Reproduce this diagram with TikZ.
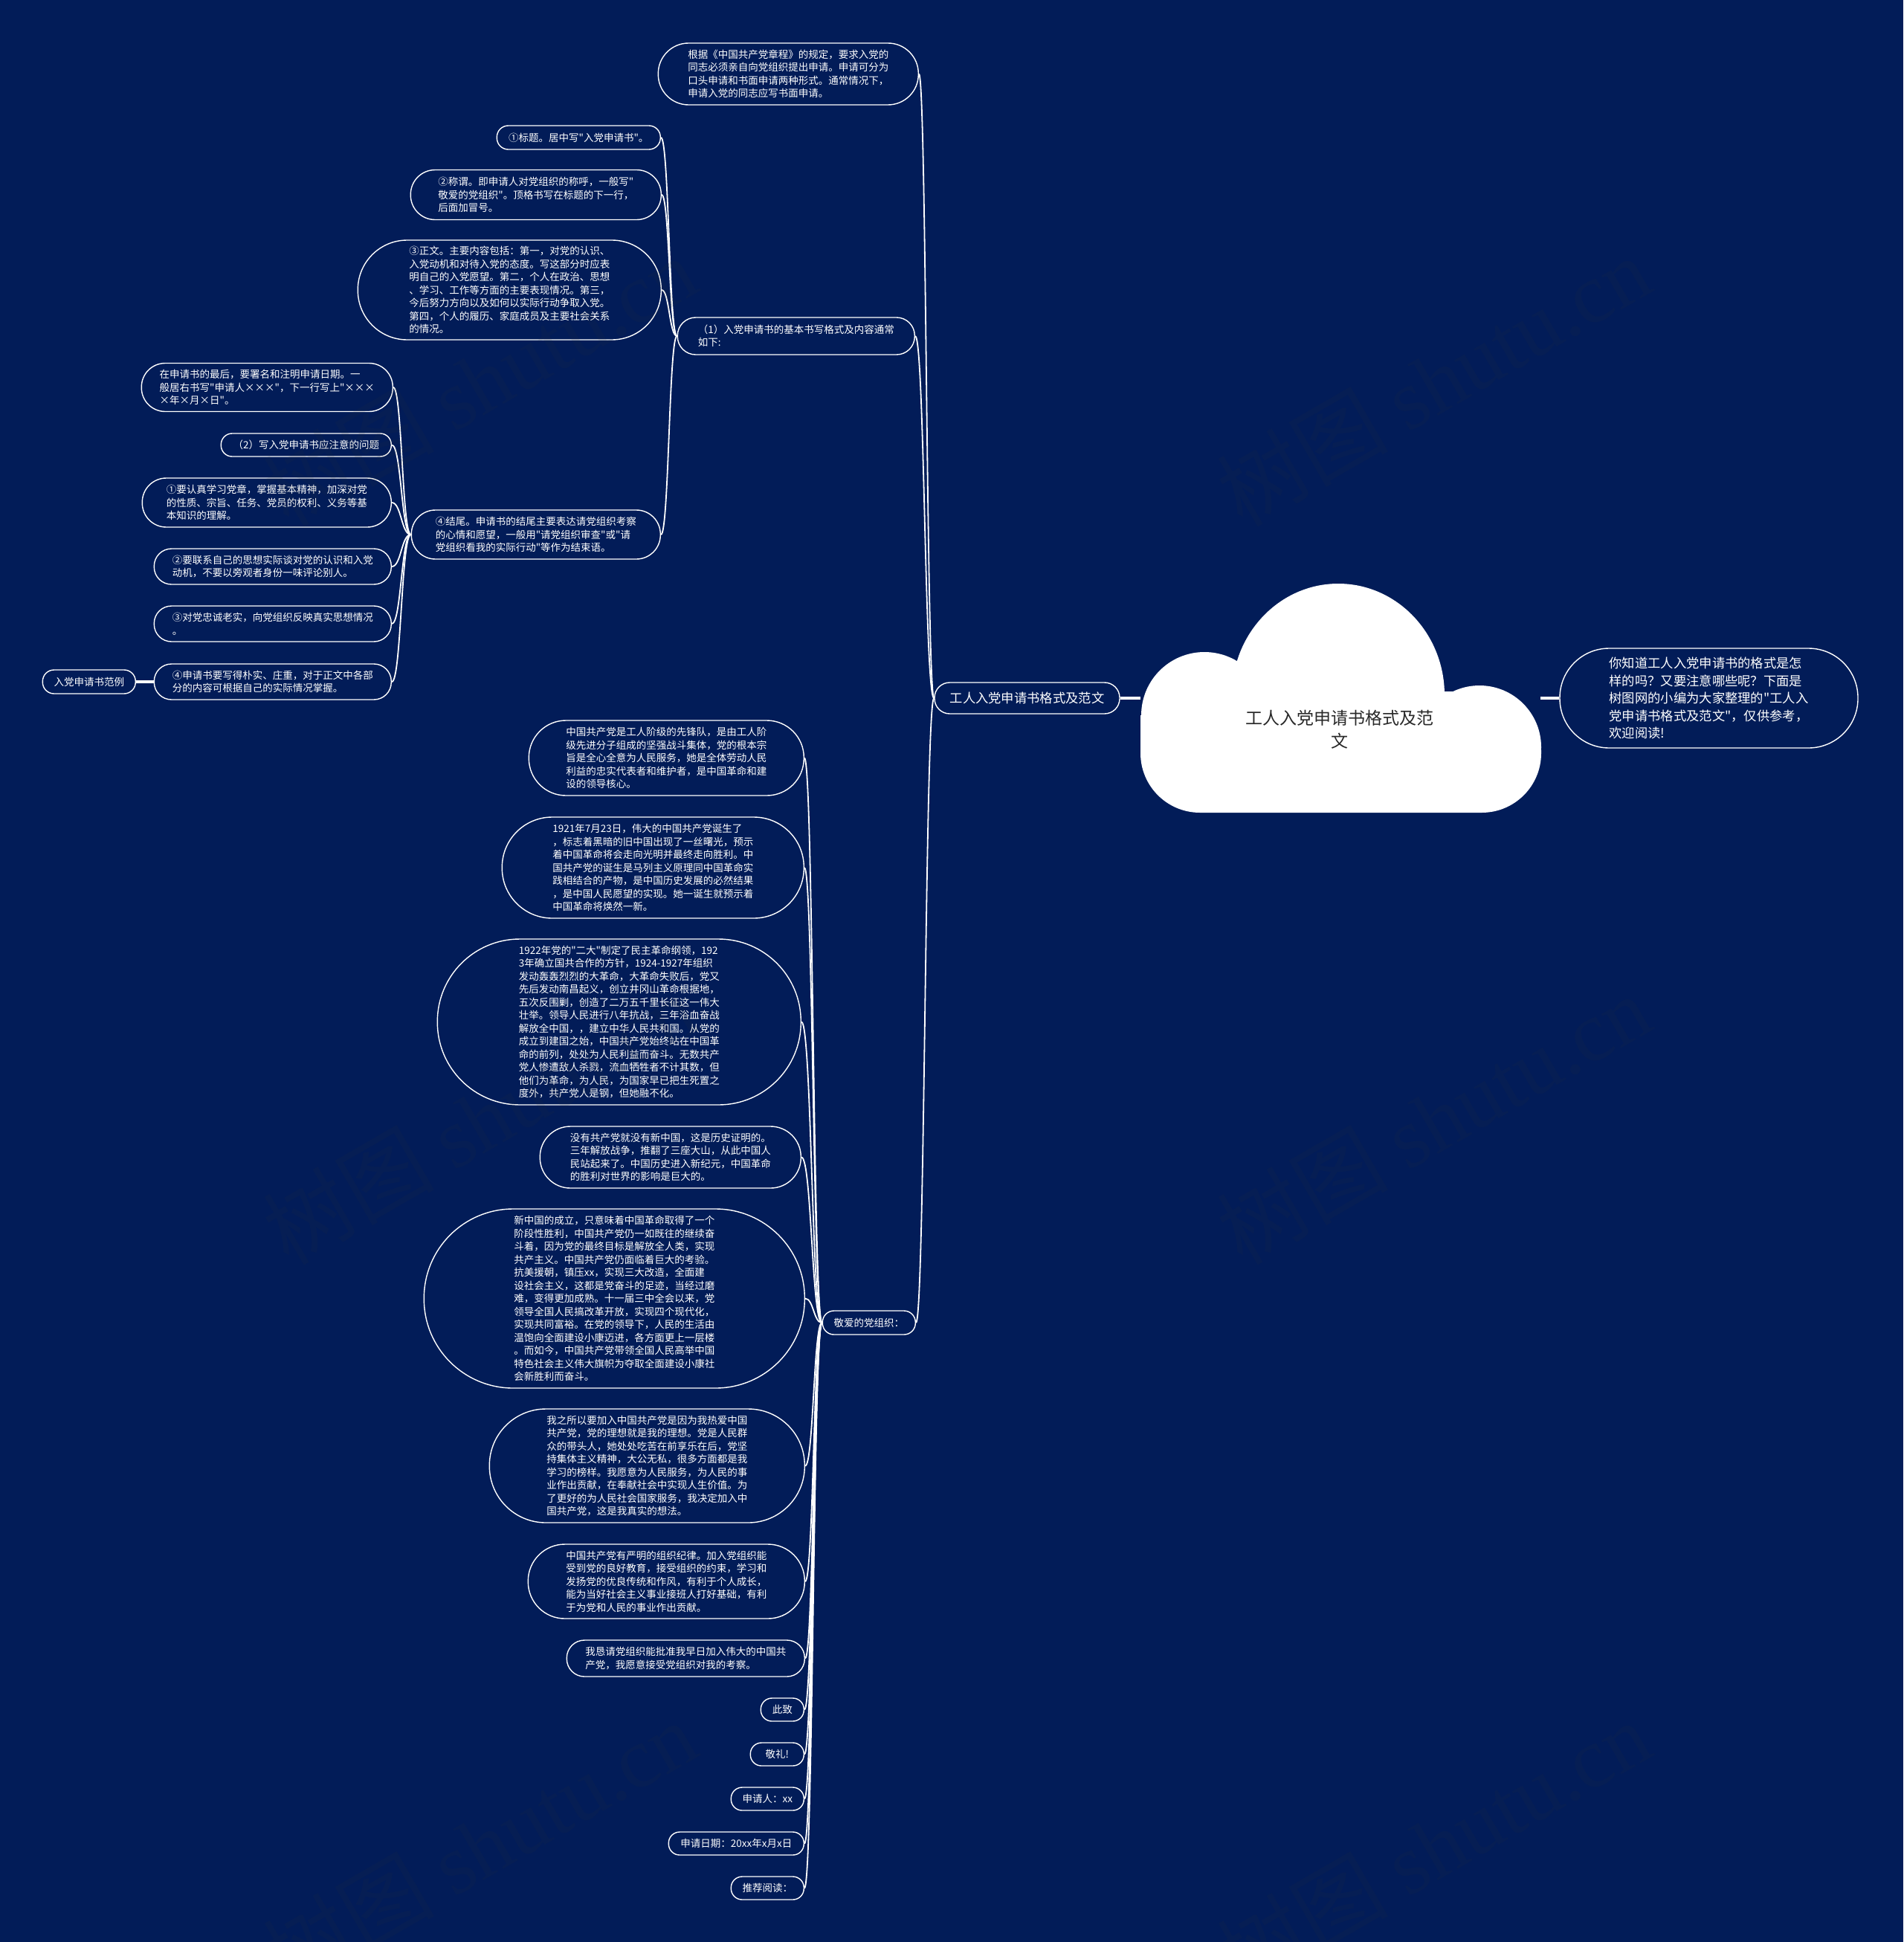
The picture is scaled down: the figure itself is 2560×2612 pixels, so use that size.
\documentclass[tikz,border=0pt]{standalone}
\usepackage{fontspec}
\setmainfont[Ligatures=TeXOff]{Noto Sans CJK SC}
\newfontfamily\wmlatin{Liberation Serif}
\usetikzlibrary{calc}
\definecolor{bgnavy}{RGB}{2,28,88}
\definecolor{roottext}{RGB}{40,40,40}
\definecolor{wmgray}{RGB}{50,50,50}
\tikzset{
  box/.style={rectangle, draw=white, line width=1.4pt, fill=bgnavy, text=white,
    align=left, inner sep=0pt, font=\fontsize{13.5}{17.5}\selectfont},
  pill/.style n args={2}{minimum width=#1pt, minimum height=#2pt, rounded corners={#2pt/2-0.6pt}},
  bigbox/.style={box, font=\fontsize{17.3}{23.5}\selectfont},
  conn/.style={draw=white, line width=1.8pt},
  heavyconn/.style={draw=white, line width=3.8pt},
  wm/.style={text=wmgray, opacity=0.1, rotate=30, font=\fontsize{115}{120}\selectfont},
  roottxt/.style={text=roottext, align=center, font=\fontsize{23}{31}\selectfont}
}
\newcommand\linkto[2]{%
  \path ($(#1.west)!0.5!(#2.east)$) coordinate (mid);
  \draw[conn] (#1.west) .. controls (mid |- #1.west) and (mid |- #2.east) .. (#2.east);}
\begin{document}
\begin{tikzpicture}[x=1pt,y=-1pt]
\fill[bgnavy] (0,0) rectangle (2560,2612);
\useasboundingbox (0,0) rectangle (2560,2612);

% cloud
\fill[white] (1800,935) ellipse [x radius=143pt, y radius=150pt];
\fill[white] (1620,962) circle [radius=85pt];
\fill[white] (1990,1005) circle [radius=83pt];
\fill[white, rounded corners=80pt] (1534,930) rectangle (2073,1093);
\fill[white] (1534,962) rectangle (2030,1013);
\node[roottxt] (root) at (1802,981) {工人入党申请书格式及范\\文};
\coordinate (cloudL) at (1534,939);
\coordinate (cloudR) at (2072,939);

% first level
\node[bigbox, pill={249}{42}] (main) at (1381.5,939) {工人入党申请书格式及范文};
\node[bigbox, pill={401}{134}] (rnode) at (2298.5,939) {你知道工人入党申请书的格式是怎\\样的吗？又要注意哪些呢？下面是\\树图网的小编为大家整理的"工人入\\党申请书格式及范文"，仅供参考，\\欢迎阅读!};

% children of main
\node[box, anchor=east, pill={350}{83}] (top) at (1236,99.5) {根据《中国共产党章程》的规定，要求入党的\\同志必须亲自向党组织提出申请。申请可分为\\口头申请和书面申请两种形式。通常情况下，\\申请入党的同志应写书面申请。};
\node[box, anchor=east, pill={319}{50}] (n1) at (1231,452) {（1）入党申请书的基本书写格式及内容通常\\如下:};
\node[box, anchor=east, pill={125}{32}] (love) at (1232,1779) {敬爱的党组织：};

% children of n1
\node[box, anchor=east, pill={220}{32}] (b1) at (889,185) {①标题。居中写"入党申请书"。};
\node[box, anchor=east, pill={337}{67}] (b2) at (890,262) {②称谓。即申请人对党组织的称呼，一般写"\\敬爱的党组织"。顶格书写在标题的下一行，\\后面加冒号。};
\node[box, anchor=east, pill={408}{134}] (b3) at (890,390) {③正文。主要内容包括：第一，对党的认识、\\入党动机和对待入党的态度。写这部分时应表\\明自己的入党愿望。第二，个人在政治、思想\\、学习、工作等方面的主要表现情况。第三，\\今后努力方向以及如何以实际行动争取入党。\\第四，个人的履历、家庭成员及主要社会关系\\的情况。};
\node[box, anchor=east, pill={335}{66}] (b4) at (889,719) {④结尾。申请书的结尾主要表达请党组织考察\\的心情和愿望，一般用"请党组织审查"或"请\\党组织看我的实际行动"等作为结束语。};

% children of b4
\node[box, anchor=east, pill={338}{65}] (c1) at (529,521) {在申请书的最后，要署名和注明申请日期。一\\般居右书写"申请人×××"，下一行写上"×××\\×年×月×日"。};
\node[box, anchor=east, pill={229}{31}] (c2) at (527,598.5) {（2）写入党申请书应注意的问题};
\node[box, anchor=east, pill={335}{66}] (c3) at (527,676) {①要认真学习党章，掌握基本精神，加深对党\\的性质、宗旨、任务、党员的权利、义务等基\\本知识的理解。};
\node[box, anchor=east, pill={319}{48}] (c4) at (527,762) {②要联系自己的思想实际谈对党的认识和入党\\动机，不要以旁观者身份一味评论别人。};
\node[box, anchor=east, pill={319}{48}] (c5) at (527,839) {③对党忠诚老实，向党组织反映真实思想情况\\。};
\node[box, anchor=east, pill={319}{48}] (c6) at (527,917) {④申请书要写得朴实、庄重，对于正文中各部\\分的内容可根据自己的实际情况掌握。};
\node[box, anchor=east, pill={125}{32}] (c7) at (183,917) {入党申请书范例};

% children of love
\node[box, anchor=east, pill={370}{101}] (d1) at (1082,1019.5) {中国共产党是工人阶级的先锋队，是由工人阶\\级先进分子组成的坚强战斗集体，党的根本宗\\旨是全心全意为人民服务，她是全体劳动人民\\利益的忠实代表者和维护者，是中国革命和建\\设的领导核心。};
\node[box, anchor=east, pill={406}{136}] (d2) at (1082,1167) {1921年7月23日，伟大的中国共产党诞生了\\，标志着黑暗的旧中国出现了一丝曙光，预示\\着中国革命将会走向光明并最终走向胜利。中\\国共产党的诞生是马列主义原理同中国革命实\\践相结合的产物，是中国历史发展的必然结果\\，是中国人民愿望的实现。她一诞生就预示着\\中国革命将焕然一新。};
\node[box, anchor=east, pill={489}{223}] (d3) at (1078,1374.5) {1922年党的"二大"制定了民主革命纲领，192\\3年确立国共合作的方针，1924-1927年组织\\发动轰轰烈烈的大革命，大革命失败后，党又\\先后发动南昌起义，创立井冈山革命根据地，\\五次反围剿，创造了二万五千里长征这一伟大\\壮举。领导人民进行八年抗战，三年浴血奋战\\解放全中国，，建立中华人民共和国。从党的\\成立到建国之始，中国共产党始终站在中国革\\命的前列，处处为人民利益而奋斗。无数共产\\党人惨遭敌人杀戮，流血牺牲者不计其数，但\\他们为革命，为人民，为国家早已把生死置之\\度外，共产党人是钢，但她融不化。};
\node[box, anchor=east, pill={351}{83}] (d4) at (1078,1556.5) {没有共产党就没有新中国，这是历史证明的。\\三年解放战争，推翻了三座大山，从此中国人\\民站起来了。中国历史进入新纪元，中国革命\\的胜利对世界的影响是巨大的。};
\node[box, anchor=east, pill={512}{241}] (d5) at (1083,1746.5) {新中国的成立，只意味着中国革命取得了一个\\阶段性胜利，中国共产党仍一如既往的继续奋\\斗着，因为党的最终目标是解放全人类，实现\\共产主义。中国共产党仍面临着巨大的考验。\\抗美援朝，镇压xx，实现三大改造，全面建\\设社会主义，这都是党奋斗的足迹，当经过磨\\难，变得更加成熟。十一届三中全会以来，党\\领导全国人民搞改革开放，实现四个现代化，\\实现共同富裕。在党的领导下，人民的生活由\\温饱向全面建设小康迈进，各方面更上一层楼\\。而如今，中国共产党带领全国人民高举中国\\特色社会主义伟大旗帜为夺取全面建设小康社\\会新胜利而奋斗。};
\node[box, anchor=east, pill={424}{153}] (d6) at (1083,1971.5) {我之所以要加入中国共产党是因为我热爱中国\\共产党，党的理想就是我的理想。党是人民群\\众的带头人，她处处吃苦在前享乐在后，党坚\\持集体主义精神，大公无私，很多方面都是我\\学习的榜样。我愿意为人民服务，为人民的事\\业作出贡献，在奉献社会中实现人生价值。为\\了更好的为人民社会国家服务，我决定加入中\\国共产党，这是我真实的想法。};
\node[box, anchor=east, pill={372}{100}] (d7) at (1083,2127) {中国共产党有严明的组织纪律。加入党组织能\\受到党的良好教育，接受组织的约束，学习和\\发扬党的优良传统和作风，有利于个人成长，\\能为当好社会主义事业接班人打好基础，有利\\于为党和人民的事业作出贡献。};
\node[box, anchor=east, pill={320}{49}] (d8) at (1083,2230.5) {我恳请党组织能批准我早日加入伟大的中国共\\产党，我愿意接受党组织对我的考察。};
\node[box, anchor=east, pill={58}{31}] (d9) at (1082,2299.5) {此致};
\node[box, anchor=east, pill={72}{31}] (d10) at (1082,2359.5) {敬礼!};
\node[box, anchor=east, pill={98}{31}] (d11) at (1082,2419.5) {申请人：xx};
\node[box, anchor=east, pill={182}{31}] (d12) at (1082,2479.5) {申请日期：20xx年x月x日};
\node[box, anchor=east, pill={98}{31}] (d13) at (1082,2539.5) {推荐阅读：};

% connectors
\draw[heavyconn] (main.east) -- (cloudL);
\draw[heavyconn] (cloudR) -- (rnode.west);
\draw[heavyconn] (c6.west) -- (c7.east);
\linkto{main}{top}
\linkto{main}{n1}
\linkto{main}{love}
\foreach \c in {b1,b2,b3,b4} {\linkto{n1}{\c}}
\foreach \c in {c1,c2,c3,c4,c5,c6} {\linkto{b4}{\c}}
\foreach \c in {d1,d2,d3,d4,d5,d6,d7,d8,d9,d10,d11,d12,d13} {\linkto{love}{\c}}

% watermarks
\node[wm] (wm1) at (1928,512) {树图 {\wmlatin shutu.cn}};
\node[wm] (wm2) at (1928,1505) {树图 {\wmlatin shutu.cn}};
\node[wm] (wm3) at (1928,2482) {树图 {\wmlatin shutu.cn}};
\node[wm] (wm4) at (645,512) {树图 {\wmlatin shutu.cn}};
\node[wm] (wm5) at (645,1505) {树图 {\wmlatin shutu.cn}};
\node[wm] (wm6) at (645,2482) {树图 {\wmlatin shutu.cn}};
\end{tikzpicture}
\end{document}
